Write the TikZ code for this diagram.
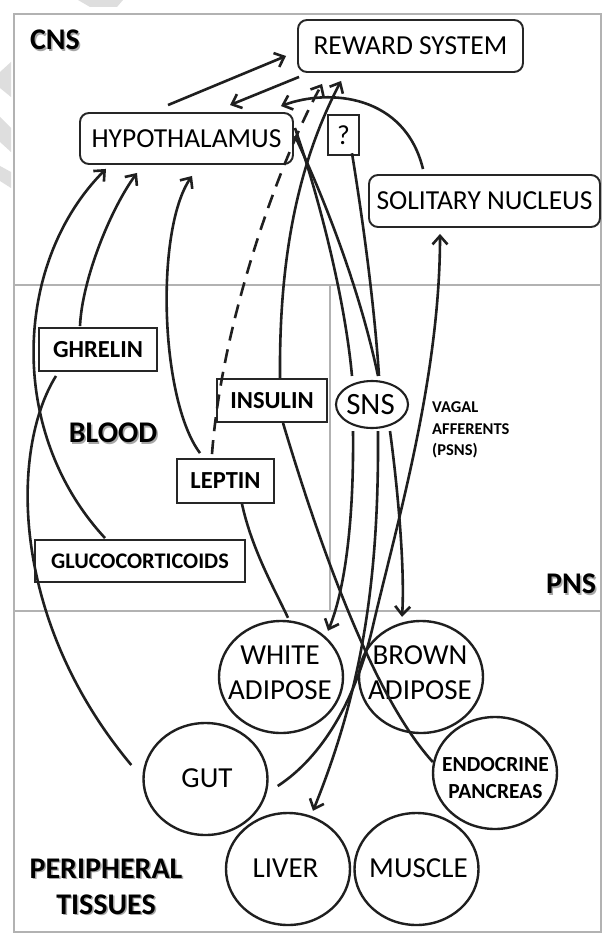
\documentclass[tikz,border=0pt]{standalone}
\usepackage{fontspec}
\setmainfont{Carlito}
\usetikzlibrary{arrows.meta,shapes.geometric,calc}
\begin{document}
\begin{tikzpicture}[x=1pt,y=-1pt,
  ln/.style={line width=2.6pt, draw=black!88},
  conn/.style={ln, -{Straight Barb[length=8.5pt,width=15pt]}},
  rbox/.style={draw=black!85, line width=1.9pt, rounded corners=9pt, inner sep=0pt, font=\fontsize{27.5}{30}\selectfont},
  hbox/.style={draw=black!85, line width=1.9pt, inner sep=0pt, font=\bfseries\fontsize{24.5}{27}\selectfont},
  organ/.style={ellipse, draw=black!88, line width=2.4pt, minimum width=124pt, minimum height=112pt, inner sep=0pt},
  olabel/.style={align=center, inner sep=0pt, font=\fontsize{29}{35}\selectfont},
  region/.style={align=center, inner sep=0pt, font=\bfseries\fontsize{30}{36}\selectfont},
  shade/.style={region, text=black!35},
  frame/.style={draw=black!30, line width=2.8pt},
  wmark/.style={fill=black!13, draw=none},
  vag/.style={anchor=base west, inner sep=0pt, font=\bfseries\fontsize{16.5}{20}\selectfont},
]
\useasboundingbox (0,0) rectangle (603,933);
\fill[white] (0,0) rectangle (603,933);
% faint watermark fragments
\fill[wmark] (78,0) -- (123,0) -- (117,7) -- (90,7) -- cycle;
\fill[wmark] (0,72) -- (11,62) -- (11,97) -- (0,88) -- cycle;
\fill[wmark] (0,117) -- (11,128) -- (11,152) -- (0,142) -- cycle;
\fill[wmark] (0,166) -- (11,172) -- (11,188) -- (0,181) -- cycle;
% frame
\draw[frame] (14,14) rectangle (601,932);
\draw[frame] (14,285) -- (601,285);
\draw[frame] (14,611) -- (601,611);
\draw[frame] (330,285) -- (330,611);
% region labels
\node[shade] (cnss) at (56.5,41.5) {CNS};
\node[region] (cns) at (55,40) {CNS};
\node[shade] (bloods) at (114.5,434.5) {BLOOD};
\node[region] (blood) at (113,433) {BLOOD};
\node[shade] (pnss) at (572.5,585.5) {PNS};
\node[region] (pns) at (571,584) {PNS};
\node[shade] (periphs) at (107.5,888) {PERIPHERAL\\TISSUES};
\node[region] (periph) at (106,886.5) {PERIPHERAL\\TISSUES};
% CNS boxes
\node[rbox, minimum width=225pt, minimum height=52pt] (reward) at (410.5,46) {REWARD SYSTEM};
\node[rbox, minimum width=213pt, minimum height=51pt] (hyp) at (186.5,138.5) {HYPOTHALAMUS};
\node[rbox, minimum width=231pt, minimum height=52pt] (sol) at (484.5,201) {SOLITARY NUCLEUS};
\node[draw=black!85, line width=2.5pt, minimum width=31pt, minimum height=40pt, inner sep=0pt, font=\fontsize{27.5}{30}\selectfont] (qm) at (343.5,135) {?};
% blood boxes
\node[hbox, minimum width=118pt, minimum height=43pt] (ghrelin) at (98,349.5) {GHRELIN};
\node[hbox, minimum width=110pt, minimum height=43pt] (insulin) at (272,400.5) {INSULIN};
\node[hbox, minimum width=97pt, minimum height=44pt] (leptin) at (225.5,481) {LEPTIN};
\node[hbox, font=\bfseries\fontsize{22.3}{25}\selectfont, minimum width=210pt, minimum height=42pt] (gluco) at (140,561) {GLUCOCORTICOIDS};
% PNS
\node[ellipse, draw=black!88, line width=2.1pt, minimum width=72pt, minimum height=47pt, inner sep=0pt] (sns) at (372,404.5) {};
\node[inner sep=0pt, font=\fontsize{31}{34}\selectfont] (snslbl) at (370.5,404.5) {SNS};
\node[vag] (vag1) at (432,412.5) {VAGAL};
\node[vag] (vag2) at (432,434) {AFFERENTS};
\node[vag] (vag3) at (432,455.5) {(PSNS)};
% peripheral tissues
\node[organ] (white) at (281,677) {};
\node[olabel] (whitelbl) at (280,672.5) {WHITE\\ADIPOSE};
\node[organ] (brown) at (421,677) {};
\node[olabel] (brownlbl) at (420,672.5) {BROWN\\ADIPOSE};
\node[organ] (gut) at (205.5,779) {};
\node[olabel] (gutlbl) at (207,778) {GUT};
\node[organ] (liver) at (288,869) {};
\node[olabel] (liverlbl) at (285.5,868) {LIVER};
\node[organ] (muscle) at (416.5,869) {};
\node[olabel] (musclelbl) at (418.5,868) {MUSCLE};
\node[organ] (pancreas) at (495,773) {};
\node[olabel, font=\bfseries\fontsize{21.5}{27}\selectfont] (pancreaslbl) at (495.5,778.5) {ENDOCRINE\\PANCREAS};
% CNS connectors
\draw[conn] ($(hyp.north)+(-18.5,-7)$) -- ($(reward.west)+(-11,10)$);
\draw[conn] ($(reward.south west)+(2,4)$) -- ($(hyp.north)+(43.5,-7)$);
\draw[conn] ($(sol.north)+(-61.5,-5)$) .. controls (405,95) and (330,88) .. ($(hyp.north east)+(-13,-6)$);
\draw[conn, dash pattern=on 14pt off 9pt] ($(leptin.north)+(-13.5,-4)$) .. controls (222,320) and (280,160) .. ($(reward.south west)+(25,11)$);
\draw[conn] ($(insulin.north)+(8,0)$) .. controls (279,260) and (297,165) .. ($(reward.south west)+(44,8)$);
\draw[conn] ($(gut.east)+(9,7)$) .. controls (310,765) and (350,720) .. (372,630) .. controls (395,530) and (440,380) .. ($(sol.south)+(-44.5,6)$);
% hormones to hypothalamus
\draw[ln] ($(gut.west)+(-11,-14)$) .. controls (10,620) and (10,450) .. ($(ghrelin.south)+(-42,4)$);
\draw[conn] ($(gluco.north)+(-35,-1)$) .. controls (5,430) and (15,260) .. ($(hyp.south)+(-80.5,4)$);
\draw[conn] ($(ghrelin.north)+(-18,-1)$) .. controls (82,280) and (110,210) .. ($(hyp.south)+(-49.5,8)$);
\draw[conn] ($(leptin.north)+(-25.5,-5)$) .. controls (160,400) and (155,230) .. ($(hyp.south)+(5.5,11)$);
\draw[ln] ($(white.north)+(7,-2)$) .. controls (275,590) and (252,550) .. ($(leptin.south)+(16.5,0)$);
\draw[ln] ($(pancreas.west)+(1,-11)$) .. controls (372,695) and (318,540) .. ($(insulin.south)+(11,0)$);
% hypothalamus to SNS
\draw[ln] ($(hyp.east)+(1,-10.5)$) .. controls (320,200) and (345,300) .. ($(sns.north)+(-20,-4)$);
\draw[ln] ($(hyp.east)+(1,-2.5)$) .. controls (325,200) and (360,290) .. ($(sns.north)+(6,-4)$);
\draw[ln] ($(qm.south)+(8.5,-3)$) .. controls (362,215) and (374,300) .. ($(sns.north)+(7,-4)$);
% SNS outputs
\draw[conn] ($(sns.south)+(-19,2)$) .. controls (354,520) and (345,590) .. ($(white.north)+(47,11)$);
\draw[conn] ($(sns.south)+(6,2)$) .. controls (379,580) and (362,690) .. ($(liver.north)+(25,-1)$);
\draw[conn] ($(sns.south)+(18,2)$) .. controls (398,490) and (405,570) .. ($(brown.north)+(-19,-3)$);
\end{tikzpicture}
\end{document}
